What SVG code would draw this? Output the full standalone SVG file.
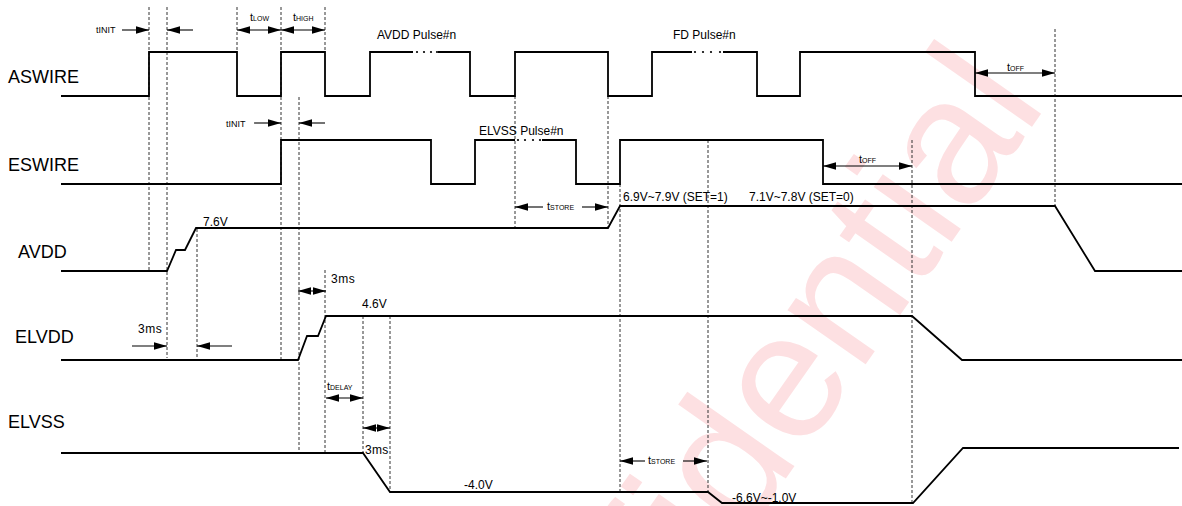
<svg xmlns="http://www.w3.org/2000/svg" width="1182" height="506" viewBox="0 0 1182 506">
<style>
text{font-family:"Liberation Sans",Arial,sans-serif;fill:#000}
.sig{font-size:18px}
.lbl{font-size:12px}
.sm{font-size:11px}
.sub{font-size:7px}
.wave{fill:none;stroke:#000;stroke-width:1.8;stroke-linejoin:miter}
.dash{fill:none;stroke:#333;stroke-width:1;stroke-dasharray:3,2}
.arr{fill:none;stroke:#000;stroke-width:1.1}
.wm{font-size:180px;fill:#fde0e2}
</style>
<defs>
<marker id="ah" markerUnits="userSpaceOnUse" markerWidth="13" markerHeight="8" refX="12" refY="3.5" orient="auto-start-reverse" viewBox="0 0 12 7">
<path d="M0,0 L12,3.5 L0,7 z" fill="#000"/>
</marker>
</defs>
<rect width="1182" height="506" fill="#fff"/>
<text class="wm" text-anchor="end" transform="translate(1048,104) rotate(-55)">Confidential</text>

<g id="guides">
<path class="dash" d="M149,7V271 M167,7V358 M197,229V358 M237,7V52 M281,7V359 M299,97V453 M325,7V52 M325,270V453 M363,316V453 M390,316V492 M515,96V228 M608,96V228 M620,184V492 M708,140V492 M912,140V503 M1055,29V206"/>
</g>

<g id="ASWIRE">
<text class="sig" x="8" y="83">ASWIRE</text>
<path class="wave" d="M61,96H149V52H237V96H281V52H325V96H370V52H413 M438,52H470V96H515V52H608V96H652V52H692 M723,52H757V96H800V52H975V96H1182"/>
<g fill="#000"><circle cx="417" cy="52" r="1.1"/><circle cx="424" cy="52" r="1.1"/><circle cx="431" cy="52" r="1.1"/><circle cx="437" cy="52" r="1.1"/>
<circle cx="695" cy="52" r="1.1"/><circle cx="703" cy="52" r="1.1"/><circle cx="711" cy="52" r="1.1"/><circle cx="720" cy="52" r="1.1"/></g>
<text class="lbl" x="377" y="39">AVDD Pulse#n</text>
<text class="lbl" x="673" y="39">FD Pulse#n</text>
</g>

<g id="ESWIRE">
<text class="sig" x="8" y="171">ESWIRE</text>
<path class="wave" d="M61,184H281V140H431V184H475V140H515 M542,140H576V184H620V140H823V184H1182"/>
<g fill="#000"><circle cx="518" cy="140" r="1.1"/><circle cx="525" cy="140" r="1.1"/><circle cx="533" cy="140" r="1.1"/><circle cx="540" cy="140" r="1.1"/></g>
<text class="lbl" x="479" y="135">ELVSS Pulse#n</text>
</g>

<g id="AVDD">
<text class="sig" x="18" y="258">AVDD</text>
<path class="wave" d="M61,271H167L176,250H185L196,228H608L620,206H1055L1095,271H1182"/>
<text class="lbl" x="203" y="226">7.6V</text>
<text class="lbl" x="623" y="201" font-size="11.5">6.9V~7.9V (SET=1)</text>
<text class="lbl" x="749" y="201" font-size="11.5">7.1V~7.8V (SET=0)</text>
</g>

<g id="ELVDD">
<text class="sig" x="15" y="343">ELVDD</text>
<path class="wave" d="M61,360H298L307,336H318L326,316H912L962,360H1182"/>
<text class="lbl" x="362" y="308">4.6V</text>
</g>

<g id="ELVSS">
<text class="sig" x="8" y="428">ELVSS</text>
<path class="wave" d="M61,453H363L390,492H708L722,503H913L963,448H1179"/>
<text class="lbl" x="464" y="489">-4.0V</text>
<text class="lbl" x="732" y="502">-6.6V~-1.0V</text>
</g>

<g id="connectors">
<path class="arr" marker-end="url(#ah)" d="M122,30H149"/>
<path class="arr" marker-end="url(#ah)" d="M193,30H167"/>
<path class="arr" marker-start="url(#ah)" marker-end="url(#ah)" d="M237,30H281"/>
<path class="arr" marker-start="url(#ah)" marker-end="url(#ah)" d="M281,30H325"/>
<path class="arr" marker-end="url(#ah)" d="M254,123H281"/>
<path class="arr" marker-end="url(#ah)" d="M325,123H299"/>
<path class="arr" marker-start="url(#ah)" marker-end="url(#ah)" d="M975,73H1055"/>
<path class="arr" marker-end="url(#ah)" d="M543,207H515"/>
<path class="arr" marker-end="url(#ah)" d="M582,207H608"/>
<path class="arr" marker-start="url(#ah)" marker-end="url(#ah)" d="M823,166H912"/>
<path class="arr" marker-start="url(#ah)" marker-end="url(#ah)" d="M298,291H326"/>
<path class="arr" marker-end="url(#ah)" d="M132,346H167"/>
<path class="arr" marker-end="url(#ah)" d="M232,346H197"/>
<path class="arr" marker-start="url(#ah)" marker-end="url(#ah)" d="M326,398H363"/>
<path class="arr" marker-start="url(#ah)" marker-end="url(#ah)" d="M363,428H390"/>
<path class="arr" marker-end="url(#ah)" d="M645,461H620"/>
<path class="arr" marker-end="url(#ah)" d="M683,461H707"/>
</g>

<g id="timing-labels">
<text x="96" y="33" font-size="9">tINIT</text>
<text x="226" y="127" font-size="9">tINIT</text>
<text x="250" y="21" class="sm">t<tspan class="sub">LOW</tspan></text>
<text x="293" y="21" class="sm">t<tspan class="sub">HIGH</tspan></text>
<text x="1007" y="71" class="sm">t<tspan class="sub">OFF</tspan></text>
<text x="859" y="163" class="sm">t<tspan class="sub">OFF</tspan></text>
<text x="547" y="210" class="sm">t<tspan class="sub" font-size="7.3">STORE</tspan></text>
<text x="648" y="464" class="sm">t<tspan class="sub" font-size="7.3">STORE</tspan></text>
<text x="327" y="390" class="sm">t<tspan class="sub" font-size="8.5">DELAY</tspan></text>
<text x="331" y="283" class="lbl" letter-spacing="0.5">3ms</text>
<text x="138" y="333" class="lbl" letter-spacing="0.5">3ms</text>
<text x="365" y="454" class="lbl" letter-spacing="0.3">3ms</text>
</g>
</svg>
